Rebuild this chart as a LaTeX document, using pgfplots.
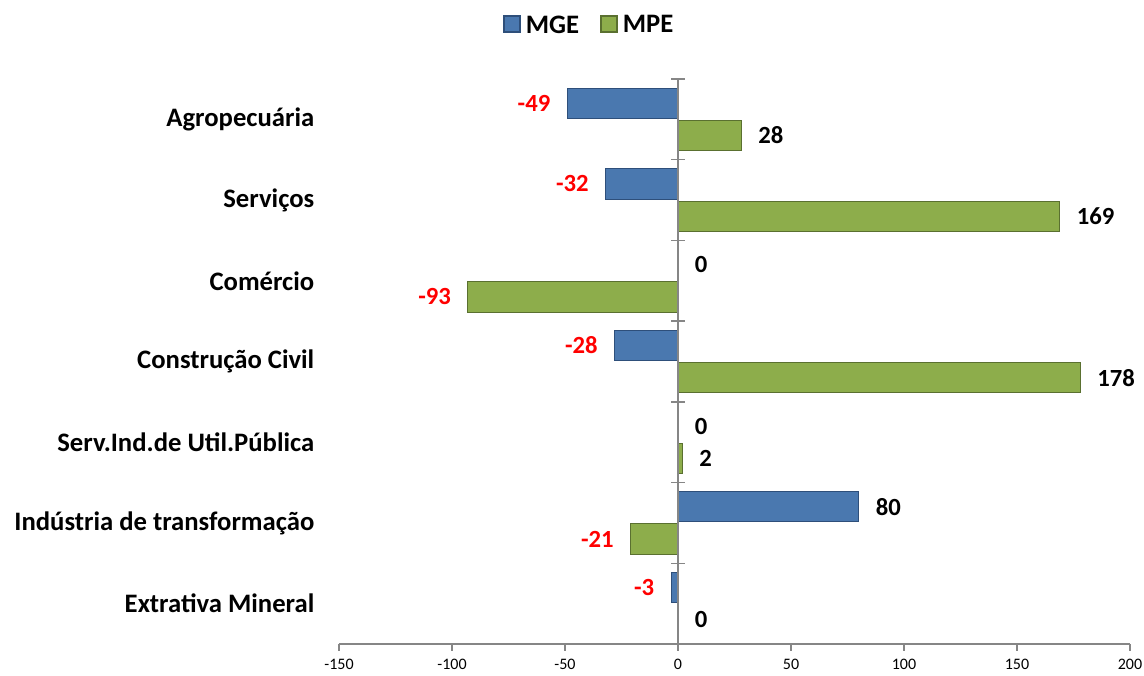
\documentclass[border=0pt]{standalone}
\usepackage{pgfplots}
\pgfplotsset{compat=1.18}
\usepackage{fontspec}
\setmainfont{Carlito}
\definecolor{bmain}{HTML}{4A78AF}
\definecolor{bedge}{HTML}{2E4F7A}
\definecolor{gmain}{HTML}{8DAD4B}
\definecolor{gedge}{HTML}{5A7030}
\definecolor{axgray}{HTML}{868686}
\begin{document}
\begin{tikzpicture}[x=1pt,y=1pt]
\path[use as bounding box] (-254.25pt,-23.25pt) rectangle (603.75pt,483pt);
\begin{axis}[
  at={(0,0)}, anchor=south west,
  scale only axis, width=593.25pt, height=423.75pt,
  xmin=-150, xmax=200, ymin=-0.5, ymax=6.5,
  xtick={-150,-100,...,200},
  ytick={0,...,6},
  yticklabels={Extrativa Mineral,Indústria de transformação,Serv.Ind.de Util.Pública,Construção Civil,Comércio,Serviços,Agropecuária},
  axis x line*=bottom, axis y line*=left,
  y axis line style={draw=none},
  x axis line style={draw=axgray, line width=1pt, -},
  major x tick style={draw=axgray, line width=1pt},
  major y tick style={draw=none},
  tick align=outside, major tick length=5pt,
  xticklabel style={font=\fontsize{12}{14}\selectfont, yshift=-2.5pt},
  /pgf/number format/assume math mode=true,
  yticklabel style={font=\fontsize{20}{24}\selectfont\bfseries, xshift=-10pt},
  xbar, bar width=0.375,
  clip=false,
  point meta=x,
  legend style={at={(0.317,1.095)}, anchor=center, draw=none, fill=none,
    legend columns=2, font=\fontsize{20}{24}\selectfont\bfseries,
    /tikz/every odd column/.append style={column sep=2pt},
    /tikz/every even column/.append style={column sep=14pt}},
  legend image code/.code={\path[#1] (0pt,-5pt) rectangle (12pt,7pt);},
]
\pgfplotsset{
  negl/.style={nodes near coords, nodes near coords style={anchor=east, xshift=-9pt, text=red, font=\fontsize{18.5}{22}\selectfont\bfseries}},
  posl/.style={nodes near coords, nodes near coords style={anchor=west, xshift=9pt, text=black, font=\fontsize{18.5}{22}\selectfont\bfseries}},
  mge/.style={bar shift=0.2, draw=bedge, line width=0.8pt, fill=bmain},
  mpe/.style={bar shift=-0.2, draw=gedge, line width=0.8pt, fill=gmain},
}
\addplot[mge, negl] coordinates {(-3,0) (-28,3) (-32,5) (-49,6)};
\addlegendentry{MGE}
\addplot[mpe, negl] coordinates {(-21,1) (-93,4)};
\addlegendentry{MPE}
\addplot[mge, posl, forget plot] coordinates {(80,1) (0,2) (0,4)};
\addplot[mpe, posl, forget plot] coordinates {(0,0) (2,2) (178,3) (169,5) (28,6)};
% vertical axis at x=0 with category separators
\draw[axgray, line width=1pt] (axis cs:0,-0.5) -- (axis cs:0,6.5);
\pgfplotsinvokeforeach{-0.5,0.5,1.5,2.5,3.5,4.5,5.5,6.5}{
  \draw[axgray, line width=1pt] (axis cs:0,#1) ++(-5pt,0pt) -- ++(10pt,0pt);
}
\end{axis}
\end{tikzpicture}
\end{document}
